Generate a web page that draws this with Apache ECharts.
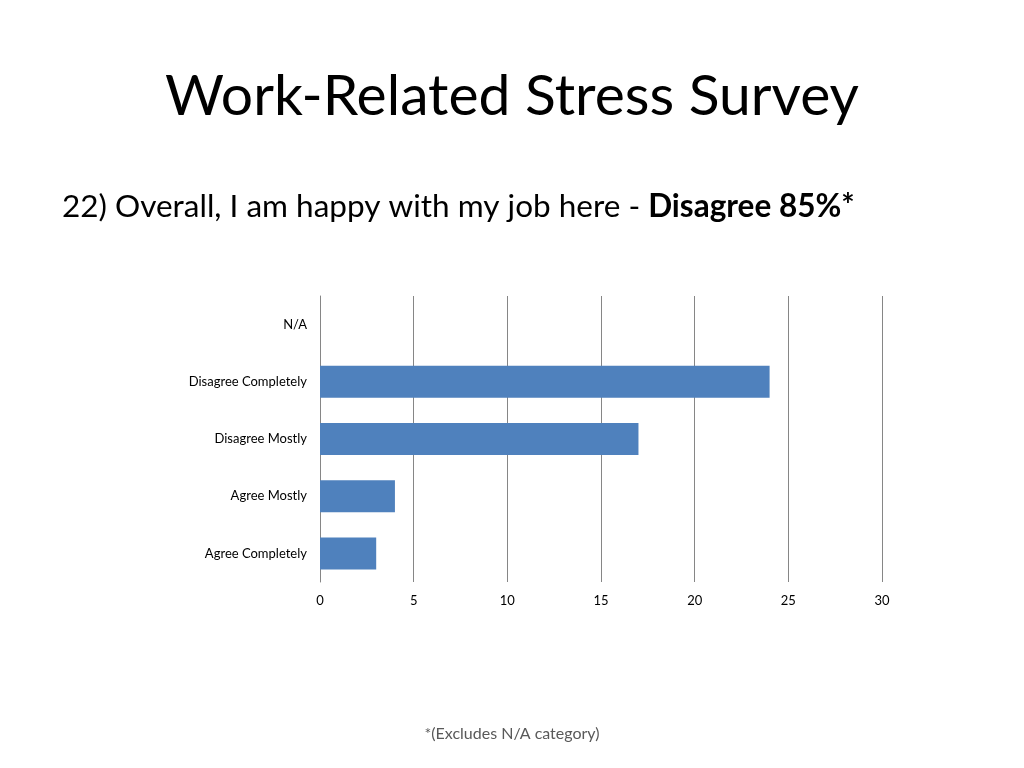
<!DOCTYPE html>
<html lang="en">
<head>
    <meta charset="UTF-8">
    <title>Work-Related Stress Survey</title>
    <script src="https://cdn.jsdelivr.net/npm/echarts@6/dist/echarts.min.js"></script>
    <style>
        html, body { margin: 0; padding: 0; background: #fff; }
        #chartmain { width: 1024px; height: 768px; }
    </style>
</head>
<body>
<div id="chartmain"></div>
<script type="text/javascript">
    // data
    var categories = ['Agree Completely', 'Agree Mostly', 'Disagree Mostly', 'Disagree Completely', 'N/A'];
    var counts = [3, 4, 17, 24, 0];
    var xTicks = { min: 0, max: 30, interval: 5 };

    var myChart = echarts.init(document.getElementById('chartmain'));
    var font = 'Lato, "Open Sans", sans-serif';

    var option = {
        backgroundColor: '#fff',
        animation: false,
        title: [
            {
                text: 'Work-Related Stress Survey',
                left: 'center',
                top: 63,
                textStyle: { fontFamily: font, fontSize: 57, fontWeight: 'normal', color: '#000' }
            },
            {
                text: '{a|22) Overall, I am happy with my job here - }{b|Disagree 85%*}',
                left: 57,
                top: 186,
                textStyle: {
                    fontWeight: 'normal',
                    rich: {
                        a: { fontFamily: font, fontSize: 31.5, fontWeight: 'normal', color: '#000' },
                        b: { fontFamily: font, fontSize: 31.5, fontWeight: 'bold', color: '#000' }
                    }
                }
            },
            {
                text: '*(Excludes N/A category)',
                left: 'center',
                top: 721,
                textStyle: { fontFamily: font, fontSize: 16, fontWeight: 'normal', color: '#595959' }
            }
        ],
        grid: { left: 320, right: 142, top: 296, bottom: 186 },
        xAxis: {
            type: 'value',
            min: xTicks.min,
            max: xTicks.max,
            interval: xTicks.interval,
            axisLine: { show: false },
            axisTick: { show: false },
            axisLabel: { fontFamily: font, fontSize: 13, color: '#000', margin: 12 },
            splitLine: { show: true, lineStyle: { color: '#868686', width: 1 } }
        },
        yAxis: {
            type: 'category',
            data: categories,
            axisLine: { show: true, lineStyle: { color: '#868686', width: 1 } },
            axisTick: { show: false },
            axisLabel: { fontFamily: font, fontSize: 13, color: '#000', margin: 13 }
        },
        series: [{
            type: 'bar',
            data: counts,
            barCategoryGap: '44%',
            itemStyle: { color: '#4F81BD' }
        }]
    };
    myChart.setOption(option);
</script>
</body>
</html>
